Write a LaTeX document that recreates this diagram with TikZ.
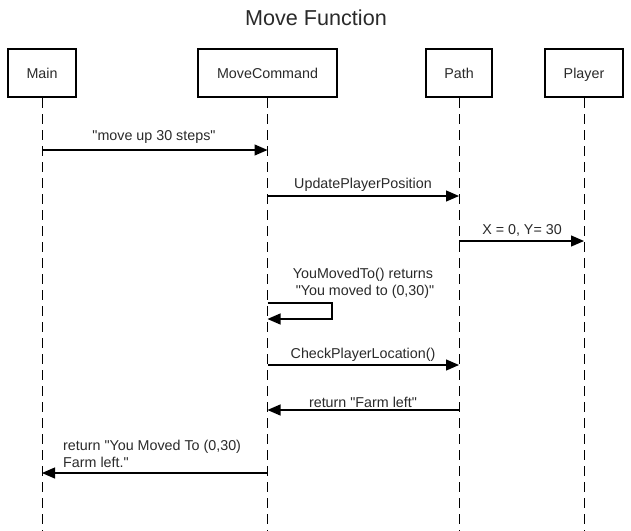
\documentclass[tikz,border=0pt]{standalone}
\usepackage{fontspec}
\newfontfamily\lib{Liberation Sans}
\usetikzlibrary{arrows.meta}
\definecolor{txt}{HTML}{2A2A2A}
\begin{document}
\begin{tikzpicture}[x=1pt,y=-1pt,
  actor/.style={draw=black,line width=2pt,minimum height=48pt,inner sep=0pt,text height=12pt,text depth=2pt,font=\lib\fontsize{14.3}{17}\selectfont,text=txt},
  life/.style={draw=black,line width=1pt,dash pattern=on 10pt off 6pt},
  msg/.style={draw=black,line width=1.2pt,-{Triangle[length=13pt,width=11pt]}},
  lbl/.style={font=\lib\fontsize{14.3}{17}\selectfont,text=txt,inner sep=0pt},
  ttl/.style={font=\lib\fontsize{21.6}{26}\selectfont,text=txt,inner sep=0pt}]
\useasboundingbox[fill=white] (0,0) rectangle (631,530);
\node[ttl] (title) at (316,18) {Move Function};
% actors
\node[actor,minimum width=68pt] (main) at (42,73) {Main};
\node[actor,minimum width=139pt] (mc) at (267.5,73) {MoveCommand};
\node[actor,minimum width=66pt] (path) at (459,73) {Path};
\node[actor,minimum width=78pt] (player) at (584,73) {Player};
% lifeline ends
\coordinate (mainE) at (42,531);
\coordinate (mcE) at (267.5,531);
\coordinate (pathE) at (459,531);
\coordinate (playerE) at (584,531);
\draw[life] (main) -- (mainE);
\draw[life] (mc) -- (mcE);
\draw[life] (path) -- (pathE);
\draw[life] (player) -- (playerE);
% message points
\coordinate (a1) at (42,150);   \coordinate (b1) at (267.5,150);
\coordinate (a2) at (267.5,196);  \coordinate (b2) at (459,196);
\coordinate (a3) at (459,241);  \coordinate (b3) at (584,241);
\coordinate (s1) at (267.5,303);  \coordinate (s2) at (332,303);
\coordinate (s3) at (332,319);  \coordinate (s4) at (267.5,319);
\coordinate (a5) at (267.5,365);  \coordinate (b5) at (459,365);
\coordinate (a6) at (459,410);  \coordinate (b6) at (267.5,410);
\coordinate (a7) at (267.5,473);  \coordinate (b7) at (42,473);
\draw[msg] (a1) -- (b1);
\draw[msg] (a2) -- (b2);
\draw[msg] (a3) -- (b3);
\draw[msg] (s1) -- (s2) -- (s3) -- (s4);
\draw[msg] (a5) -- (b5);
\draw[msg] (a6) -- (b6);
\draw[msg] (a7) -- (b7);
% labels
\node[lbl] (l1) at (154,137) {"move up 30 steps"};
\node[lbl] (l2) at (363,185) {UpdatePlayerPosition};
\node[lbl] (l3) at (522,230) {X = 0, Y= 30};
\node[lbl,align=center] (l4) at (363,283) {YouMovedTo() returns\\ \hspace*{4pt}"You moved to (0,30)"};
\node[lbl] (l5) at (363,355) {CheckPlayerLocation()};
\node[lbl] (l6) at (363,402) {return "Farm left"};
\node[lbl,align=left,anchor=west] (l7) at (63,454) {return "You Moved To (0,30)\\Farm left."};
\end{tikzpicture}
\end{document}
